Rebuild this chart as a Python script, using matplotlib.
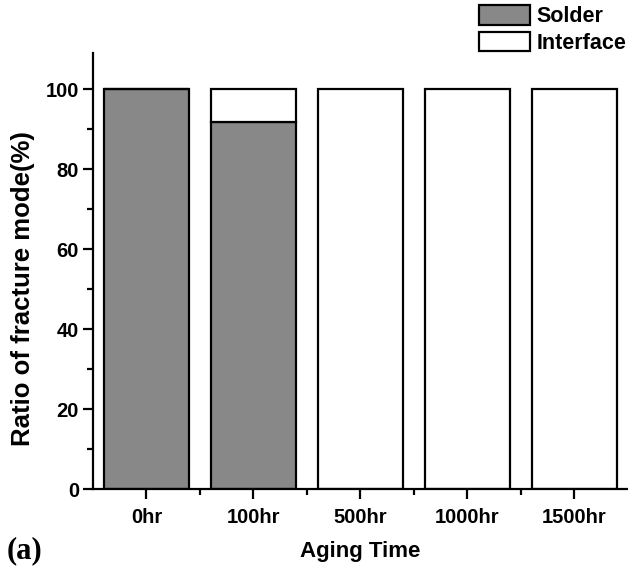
import numpy as np
import matplotlib
matplotlib.use('Agg')
import matplotlib.pyplot as plt
from matplotlib.ticker import MultipleLocator

plt.rcParams['font.family'] = ['Liberation Sans', 'DejaVu Sans']
plt.rcParams['font.weight'] = 'bold'

# data
categories = ['0hr', '100hr', '500hr', '1000hr', '1500hr']
solder = [100, 91.7, 0, 0, 0]
interface = [0, 8.3, 100, 100, 100]

fig = plt.figure(figsize=(6.28, 5.71), dpi=100)
ax = fig.add_axes([0.148, 0.1436, 0.852, 0.7634])

index = np.arange(len(categories))
bar_width = 0.8

ax.bar(index, solder, bar_width, color='#888888', edgecolor='black',
       linewidth=1.6, label='Solder')
ax.bar(index, interface, bar_width, bottom=solder, color='white',
       edgecolor='black', linewidth=1.6, label='Interface')

ax.set_xlim(-0.5, 4.5)
ax.set_ylim(0, 109)

for s in ['top', 'right']:
    ax.spines[s].set_visible(False)
for s in ['left', 'bottom']:
    ax.spines[s].set_linewidth(1.6)

ax.set_xticks(index)
ax.set_xticklabels(categories)
ax.set_xticks(index[:-1] + 0.5, minor=True)
ax.yaxis.set_major_locator(MultipleLocator(20))
ax.yaxis.set_minor_locator(MultipleLocator(10))
ax.tick_params(axis='both', which='major', direction='out', length=7,
               width=1.6, labelsize=14.5)
ax.tick_params(axis='both', which='minor', direction='out', length=4,
               width=1.6)
ax.tick_params(axis='x', pad=7)
ax.tick_params(axis='y', pad=3)

ax.set_xlabel('Aging Time', fontsize=16, fontweight='bold', labelpad=10)
ax.set_ylabel('Ratio of fracture mode(%)', fontsize=18.5, fontweight='bold')
ax.yaxis.set_label_coords(-0.108, 0.459)

fig.legend(loc='upper right', bbox_to_anchor=(1.02, 1.015), frameon=False,
           fontsize=15.5, handlelength=2.4, handleheight=1.0,
           handletextpad=0.3, labelspacing=0.22, borderaxespad=0.25)

fig.text(0.01, 0.022, '(a)', fontsize=22, fontweight='bold',
         family=['Liberation Serif', 'DejaVu Serif'])

fig.savefig('out.png', dpi=100)
